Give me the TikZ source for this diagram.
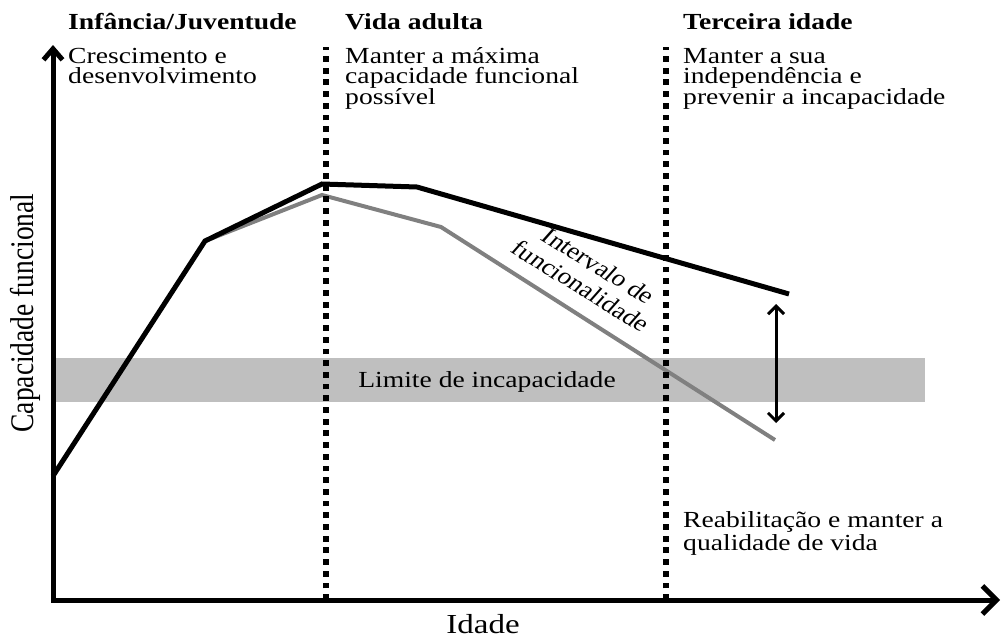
\documentclass[tikz,border=0pt]{standalone}
\usepackage{fontspec}
\setmainfont{Liberation Serif}
\usetikzlibrary{arrows.meta}

% lines stacked at a fixed baseline distance, baseline of the first line
\newcommand{\txtlines}[1]{\vtop{\lineskiplimit=-\maxdimen\halign{##\hfil\cr#1\crcr}}}

\begin{document}
\begin{tikzpicture}[x=1pt,y=-1pt,
  txt/.style={xscale=1.2,inner sep=0pt,font=\fontsize{23}{20.5}\selectfont},
  axlabel/.style={xscale=1.2,inner sep=0pt,font=\fontsize{27.5}{27.5}\selectfont},
  phase/.style={line width=6pt,dash pattern=on 5.8pt off 5.9pt}]

\useasboundingbox (0,0) rectangle (1002,637);

% --- Limite de incapacidade ---
\fill[gray!50] (56,358) rectangle (925,402);
\node[txt,anchor=base] (limite) at (487,387) {Limite de incapacidade};

% Curve points
\coordinate (c0) at (53,476);
\coordinate (c1) at (205,241);
\coordinate (b1) at (322,184);
\coordinate (b2) at (417,187);
\coordinate (b3) at (789,294);
\coordinate (g1) at (322,195);
\coordinate (g2) at (441,227);
\coordinate (g3) at (775,440);

% Gray curve
\draw[line width=4pt,gray] (c1) -- (g1) -- (g2) -- (g3);
% Black curve
\draw[line width=5pt] (c0) -- (c1) -- (b1) -- (b2) -- (b3);

% Phase limits
\foreach \x/\name in {325.5/adulta,665.5/terceira} {
    \coordinate (\name-top) at (\x,47);
    \coordinate (\name-bot) at (\x,600);
    \draw[phase] (\name-bot) -- (\name-top);
}

% Axes
\coordinate (ytip) at (53,45);
\coordinate (origin) at (53,600);
\coordinate (xtip) at (1000,600);
\draw[line width=5pt,{Straight Barb[length=11pt,width=19pt]}-{Straight Barb[length=14pt,width=28pt]}]
    (ytip) -- (origin) -- (xtip);

\node[axlabel,anchor=base] (idade) at (483,633) {Idade};
\node[axlabel,anchor=base,rotate=90] (capacidade) at (33,313) {Capacidade funcional};

% Intervalo de funcionalidade
\coordinate (gap-top) at (776,304);
\coordinate (gap-bot) at (776,423);
\draw[line width=3pt,{Straight Barb[length=8pt,width=16pt]}-{Straight Barb[length=8pt,width=16pt]}]
    (gap-top) -- (gap-bot);
\node[txt,rotate=-36.4,align=center,font=\fontsize{23}{25}\selectfont] (intervalo) at (590,276)
    {Intervalo de\\funcionalidade};

% Phase texts
\node[txt,anchor=base west] (infancia) at (68,30)
    {\txtlines{\textbf{Infância/Juventude}\cr\noalign{\vskip12.5pt}Crescimento e\cr desenvolvimento}};
\node[txt,anchor=base west] (vida) at (345,30)
    {\txtlines{\textbf{Vida adulta}\cr\noalign{\vskip12.5pt}Manter a máxima\cr capacidade funcional\cr possível}};
\node[txt,anchor=base west] (idosa) at (683,30)
    {\txtlines{\textbf{Terceira idade}\cr\noalign{\vskip12.5pt}Manter a sua\cr independência e\cr prevenir a incapacidade}};
\node[txt,anchor=base west] (reabilitacao) at (683,527)
    {\txtlines{Reabilitação e manter a\cr\noalign{\vskip2.8pt}qualidade de vida}};

\end{tikzpicture}
\end{document}
